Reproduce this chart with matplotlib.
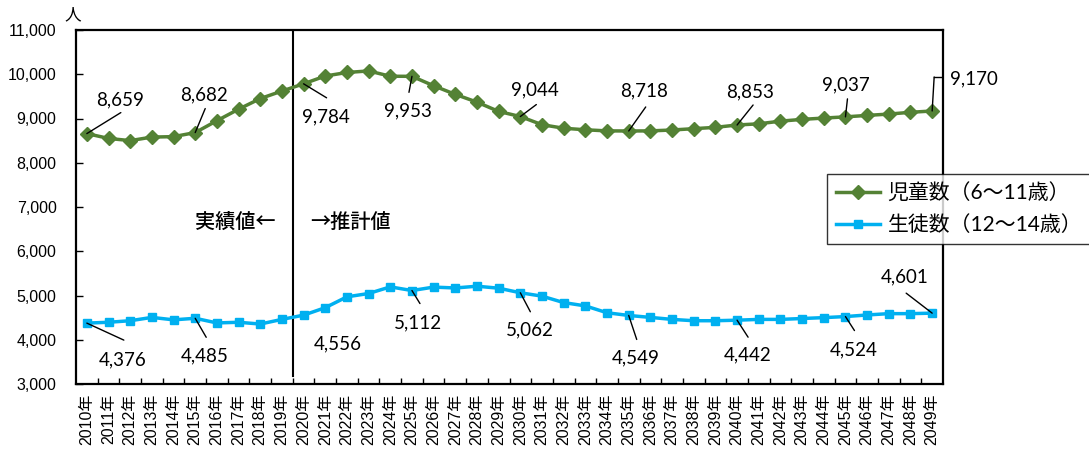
import matplotlib

matplotlib.use("Agg")
import matplotlib.pyplot as plt
from matplotlib.ticker import FuncFormatter

plt.rcParams["font.family"] = ["Liberation Sans", "Noto Sans CJK JP", "DejaVu Sans"]

# 年次 (2010-2019 実績, 2020- 推計)
years = list(range(2010, 2050))
year_labels = [f"{y}年" for y in years]

# 児童数（6～11歳）
children = [
    8659, 8550, 8500, 8580, 8590, 8682, 8950, 9210, 9450, 9620,
    9784, 9960, 10040, 10075, 9955, 9953, 9740, 9545, 9370, 9160,
    9044, 8860, 8780, 8745, 8720, 8718, 8720, 8740, 8770, 8800,
    8853, 8880, 8940, 8980, 9010, 9037, 9070, 9100, 9140, 9170,
]
# 生徒数（12～14歳）
students = [
    4376, 4395, 4430, 4505, 4450, 4485, 4380, 4395, 4355, 4460,
    4556, 4725, 4970, 5045, 5195, 5112, 5190, 5170, 5210, 5165,
    5062, 4985, 4840, 4765, 4610, 4549, 4505, 4460, 4430, 4430,
    4442, 4460, 4460, 4480, 4500, 4524, 4560, 4590, 4590, 4601,
]

series_names = ["児童数（6～11歳）", "生徒数（12～14歳）"]

# labelled years
label_years = [2010, 2015, 2020, 2025, 2030, 2035, 2040, 2045, 2049]

GREEN = "#548235"
BLUE = "#00B0F0"
NUM_FONT = ["Lato", "Noto Sans CJK JP"]

# label placement in pixel offsets: (text offset, leader end offset or None)
green_pos = [
    ((33, 34), (34, 21)),
    ((9, 38), (10, 24)),
    ((22, -33), (23, -14)),
    ((-4, -35), (-3, -16)),
    ((15, 27), (16, 12)),
    ((15, 40), (17, 24)),
    ((13, 33), (16, 20)),
    ((0, 32), (2, 18)),
    ((42, 32), None),
]
blue_pos = [
    ((36, -37), (37, -17)),
    ((9, -38), (11, -19)),
    ((34, -29), None),
    ((6, -32), (8, -13)),
    ((9, -37), (10, -19)),
    ((7, -42), (8, -24)),
    ((11, -35), (11, -17)),
    ((8, -33), (9, -14)),
    ((-27, 36), (-26, 20)),
]

fig = plt.figure(figsize=(10.89, 4.55), dpi=100)
ax = fig.add_axes([76 / 1089, 1 - 384 / 455, 867 / 1089, 354 / 455])

x = list(range(len(years)))
l1, = ax.plot(x, children, color=GREEN, lw=2.5, marker="D", ms=7, zorder=3)
l2, = ax.plot(x, students, color=BLUE, lw=2.5, marker="s", ms=5.5, zorder=3)

ax.set_xlim(-0.5, len(years) - 0.5)
ax.set_ylim(3000, 11000)
ax.set_yticks(range(3000, 11001, 1000))
ax.yaxis.set_major_formatter(FuncFormatter(lambda v, p: f"{int(v):,}"))
ax.tick_params(axis="y", direction="in", length=5, width=1, labelsize=11.5, pad=14)

ax.set_xticks(x)
ax.set_xticklabels(year_labels, rotation=90, fontsize=11.5)
ax.set_xticks([i + 0.5 for i in x[:-1]], minor=True)
ax.tick_params(axis="x", which="major", length=0, pad=7)
ax.tick_params(axis="x", which="minor", direction="in", length=4, width=1)

for s in ax.spines.values():
    s.set_linewidth(1.6)
    s.set_color("black")

# 実績 / 推計 の境界
ax.axvline(9.5, ymin=0.022, ymax=1, color="black", lw=1.5)
ax.text(8.7, 6650, "実績値←", ha="right", va="center", fontsize=14.5,
        family=["Noto Sans CJK JP"], fontweight="medium")
ax.text(10.3, 6650, "→推計値", ha="left", va="center", fontsize=14.5,
        family=["Noto Sans CJK JP"], fontweight="medium")


def add_labels(values, positions):
    for yr, (tpos, lpos) in zip(label_years, positions):
        i = years.index(yr)
        v = values[i]
        ax.annotate(f"{v:,}", (i, v), xytext=tpos, textcoords="offset pixels",
                    ha="center", va="center", fontsize=13.5, family=NUM_FONT)
        if lpos is not None:
            ax.annotate("", (i, v), xytext=lpos, textcoords="offset pixels",
                        arrowprops=dict(arrowstyle="-", color="black", lw=1,
                                        shrinkA=0, shrinkB=0))


add_labels(children, green_pos)
add_labels(students, blue_pos)

# elbow leader for the last green label
i_last = len(years) - 1
ax.annotate("", (i_last, children[i_last]), xytext=(2, 34), textcoords="offset pixels",
            arrowprops=dict(arrowstyle="-", color="black", lw=1, shrinkA=0, shrinkB=0),
            annotation_clip=False)
ax.plot([i_last + 0.1, i_last + 0.47], [children[i_last] + 760] * 2, color="black",
        lw=1, clip_on=False)

fig.text(73 / 1089, 1 - 15 / 455, "人", ha="center", va="center", fontsize=12,
         family=["Noto Sans CJK JP"])

leg = fig.legend([l1, l2], series_names, loc="upper left",
                 bbox_to_anchor=(827 / 1089, 1 - 174 / 455),
                 prop={"family": ["Lato", "Noto Sans CJK JP"], "size": 15},
                 frameon=True, fancybox=False, edgecolor="black",
                 handlelength=2.1, borderpad=0.45, labelspacing=0.55,
                 handletextpad=0.35, borderaxespad=0)
leg.get_frame().set_linewidth(1)

fig.savefig("out.png", dpi=100)
